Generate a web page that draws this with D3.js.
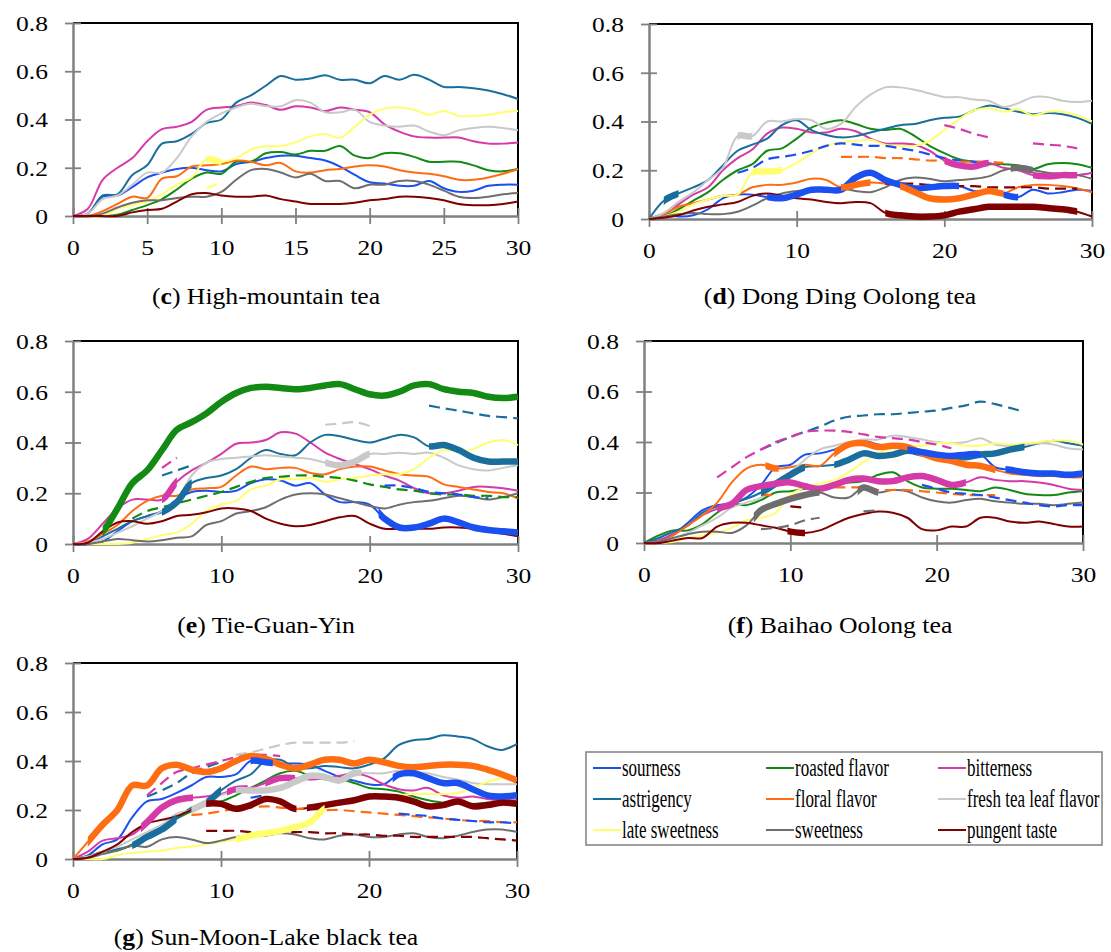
<!DOCTYPE html>
<html>
<head>
<meta charset="utf-8">
<script src="https://cdn.jsdelivr.net/npm/d3@7"></script>
<style>
  body { margin: 0; background: #fff; }
  svg text { font-family: "Liberation Serif", "Times New Roman", Times, serif; }
</style>
</head>
<body>
<svg id="chart" width="1111" height="952"></svg>
<script>
// attribute order used in every panel array below
var attrs = ["sourness", "roasted flavor", "bitterness", "astrigency", "floral flavor",
             "fresh tea leaf flavor", "late sweetness", "sweetness", "pungent taste"];
var keys = ["sour", "roast", "bitter", "astr", "floral", "fresh", "late", "sweet", "pungent"];
var colors = ["#1a4ff0", "#138a13", "#d43aa8", "#1a6e9e", "#ff6d12",
              "#c9c9c9", "#ffff6e", "#6e6e6e", "#7f0000"];

// dominance rate at t = 0..30 s, one row per attribute
var highMountain = [
  [0,0.01,0.08,0.085,0.12,0.16,0.18,0.195,0.2,0.19,0.185,0.215,0.225,0.24,0.25,0.25,0.24,0.23,0.205,0.17,0.14,0.135,0.125,0.125,0.145,0.115,0.1,0.105,0.125,0.13,0.13],
  [0,0,0,0.005,0.025,0.045,0.07,0.11,0.155,0.18,0.175,0.225,0.225,0.26,0.265,0.255,0.27,0.27,0.29,0.25,0.24,0.26,0.26,0.245,0.225,0.225,0.225,0.21,0.19,0.185,0.195],
  [0,0.03,0.15,0.2,0.24,0.31,0.36,0.37,0.39,0.44,0.45,0.455,0.47,0.46,0.44,0.455,0.45,0.435,0.45,0.44,0.43,0.38,0.35,0.33,0.325,0.325,0.325,0.31,0.3,0.3,0.305],
  [0,0.01,0.085,0.09,0.17,0.21,0.3,0.31,0.34,0.385,0.4,0.47,0.5,0.54,0.58,0.565,0.57,0.583,0.565,0.565,0.55,0.58,0.565,0.585,0.565,0.535,0.535,0.53,0.52,0.505,0.485],
  [0,0,0.02,0.05,0.08,0.075,0.155,0.165,0.205,0.21,0.215,0.23,0.225,0.21,0.22,0.185,0.18,0.19,0.195,0.205,0.21,0.205,0.19,0.18,0.175,0.165,0.15,0.15,0.16,0.175,0.195],
  [0,0.01,0.07,0.085,0.13,0.18,0.18,0.24,0.33,0.39,0.425,0.45,0.465,0.455,0.455,0.48,0.47,0.43,0.43,0.44,0.39,0.375,0.37,0.375,0.35,0.335,0.355,0.365,0.37,0.365,0.355],
  [0,0,0,0.03,0.045,0.06,0.09,0.13,0.16,0.235,0.225,0.24,0.275,0.29,0.29,0.305,0.33,0.34,0.325,0.37,0.42,0.445,0.45,0.44,0.42,0.435,0.415,0.415,0.42,0.43,0.435],
  [0,0,0.01,0.035,0.055,0.065,0.065,0.075,0.08,0.08,0.1,0.15,0.19,0.195,0.18,0.16,0.175,0.145,0.145,0.115,0.13,0.13,0.145,0.145,0.13,0.105,0.08,0.075,0.08,0.09,0.095],
  [0,0,0,0,0.015,0.025,0.03,0.06,0.09,0.095,0.085,0.08,0.08,0.085,0.07,0.06,0.05,0.05,0.05,0.055,0.065,0.07,0.08,0.08,0.075,0.065,0.05,0.045,0.045,0.05,0.06]
];
var highMountainThick = [["late", 9, 10]];
var highMountainDash = [["late", 9, [0.115, 0.14]]];

var dongDing = [
  [0,0.02,0.01,0.015,0.04,0.085,0.1,0.1,0.09,0.085,0.1,0.12,0.12,0.12,0.17,0.19,0.16,0.14,0.125,0.13,0.135,0.135,0.115,0.115,0.1,0.09,0.12,0.105,0.11,0.12,0.115],
  [0,0.01,0.04,0.075,0.11,0.16,0.2,0.225,0.28,0.29,0.33,0.375,0.395,0.405,0.39,0.37,0.365,0.37,0.34,0.3,0.27,0.245,0.235,0.225,0.225,0.22,0.205,0.225,0.23,0.225,0.21],
  [0,0.015,0.06,0.1,0.13,0.2,0.25,0.285,0.35,0.375,0.37,0.355,0.355,0.37,0.36,0.33,0.31,0.31,0.305,0.28,0.24,0.22,0.215,0.23,0.21,0.2,0.18,0.175,0.18,0.18,0.19],
  [0,0.075,0.105,0.13,0.16,0.22,0.28,0.305,0.33,0.385,0.405,0.365,0.345,0.335,0.34,0.355,0.37,0.385,0.39,0.405,0.415,0.42,0.445,0.465,0.455,0.44,0.43,0.435,0.43,0.415,0.39],
  [0,0.02,0.05,0.065,0.08,0.095,0.1,0.13,0.14,0.14,0.15,0.165,0.16,0.13,0.14,0.15,0.145,0.135,0.11,0.085,0.08,0.085,0.1,0.115,0.105,0.13,0.14,0.14,0.135,0.125,0.11],
  [0,0.025,0.07,0.11,0.16,0.21,0.34,0.34,0.4,0.4,0.41,0.405,0.37,0.39,0.46,0.51,0.54,0.54,0.53,0.515,0.5,0.5,0.49,0.485,0.46,0.475,0.5,0.5,0.485,0.48,0.485],
  [0,0.01,0.03,0.06,0.08,0.095,0.1,0.19,0.195,0.2,0.23,0.27,0.3,0.315,0.32,0.325,0.305,0.3,0.3,0.32,0.365,0.41,0.445,0.455,0.44,0.45,0.425,0.44,0.44,0.425,0.4],
  [0,0.01,0.02,0.025,0.02,0.02,0.03,0.055,0.085,0.105,0.115,0.12,0.12,0.125,0.115,0.11,0.13,0.16,0.17,0.165,0.155,0.16,0.165,0.175,0.2,0.21,0.2,0.19,0.185,0.18,0.165],
  [0,0.005,0.015,0.035,0.05,0.06,0.07,0.095,0.105,0.095,0.085,0.08,0.07,0.065,0.07,0.065,0.025,0.015,0.01,0.01,0.015,0.03,0.04,0.05,0.05,0.05,0.05,0.045,0.04,0.03,0.01]
];
var dongDingThick = [["fresh", 6, 7], ["astr", 1, 2], ["bitter", 20, 23], ["bitter", 26, 29],
  ["late", 7, 9], ["sour", 8, 21], ["sour", 24, 25], ["floral", 13, 15], ["floral", 17, 24],
  ["sweet", 24.5, 26], ["pungent", 16, 29]];
var dongDingDash = [
  ["bitter", 20, [0.385, 0.37, 0.35, 0.335]],
  ["bitter", 26, [0.31, 0.305, 0.3, 0.29]],
  ["sour", 6, [0.19,0.21,0.245,0.255,0.265,0.28,0.3,0.31,0.305,0.3,0.3,0.29,0.28,0.265,0.25,0.24,0.235,0.23]],
  ["floral", 13, [0.255,0.255,0.255,0.25,0.25,0.245,0.24,0.24,0.235,0.235,0.235,0.23]],
  ["pungent", 16, [0.145,0.145,0.145,0.14,0.14,0.135,0.135,0.13,0.13,0.13,0.13,0.125,0.125,0.125]]
];

var tieGuanYin = [
  [0,0,0.01,0.05,0.09,0.11,0.13,0.175,0.205,0.21,0.205,0.21,0.24,0.255,0.25,0.23,0.24,0.195,0.165,0.165,0.155,0.1,0.065,0.065,0.08,0.1,0.085,0.065,0.055,0.05,0.045],
  [0,0.005,0.05,0.14,0.24,0.29,0.37,0.45,0.48,0.515,0.56,0.595,0.615,0.62,0.615,0.61,0.615,0.625,0.63,0.61,0.59,0.585,0.6,0.625,0.63,0.61,0.6,0.595,0.58,0.575,0.58],
  [0,0.02,0.08,0.14,0.175,0.175,0.175,0.245,0.29,0.32,0.355,0.395,0.4,0.41,0.44,0.435,0.4,0.36,0.335,0.315,0.295,0.27,0.25,0.22,0.2,0.2,0.21,0.225,0.225,0.22,0.21],
  [0,0,0.03,0.06,0.09,0.11,0.125,0.165,0.24,0.26,0.27,0.295,0.34,0.37,0.355,0.35,0.4,0.43,0.425,0.41,0.4,0.415,0.43,0.42,0.385,0.39,0.37,0.34,0.325,0.325,0.325],
  [0,0.01,0.04,0.075,0.13,0.17,0.19,0.19,0.215,0.22,0.225,0.27,0.305,0.295,0.3,0.3,0.28,0.275,0.295,0.305,0.305,0.29,0.275,0.27,0.265,0.235,0.225,0.215,0.205,0.2,0.18],
  [0,0.005,0.02,0.045,0.07,0.1,0.13,0.17,0.27,0.32,0.335,0.34,0.345,0.35,0.345,0.34,0.335,0.32,0.31,0.325,0.355,0.355,0.36,0.355,0.36,0.34,0.31,0.295,0.29,0.3,0.31],
  [0,0,0,0,0.005,0.02,0.035,0.045,0.08,0.13,0.155,0.17,0.215,0.23,0.255,0.255,0.26,0.245,0.255,0.26,0.27,0.275,0.275,0.295,0.34,0.37,0.365,0.375,0.4,0.41,0.39],
  [0,0,0.01,0.02,0.015,0.01,0.015,0.025,0.03,0.075,0.09,0.12,0.13,0.145,0.175,0.195,0.2,0.195,0.18,0.165,0.15,0.14,0.155,0.165,0.17,0.18,0.19,0.185,0.175,0.185,0.2],
  [0,0.005,0.05,0.085,0.09,0.08,0.09,0.11,0.115,0.125,0.14,0.14,0.13,0.1,0.08,0.07,0.075,0.09,0.105,0.11,0.08,0.06,0.06,0.06,0.06,0.065,0.065,0.06,0.05,0.04,0.03]
];
var tieGuanYinThick = [["roast", 2, 30], ["astr", 6, 8], ["astr", 24, 30], ["bitter", 6, 7],
  ["fresh", 17, 20], ["sour", 20.6, 30]];
var tieGuanYinDash = [
  ["roast", 4, [0.1,0.13,0.145,0.16,0.175,0.19,0.205,0.225,0.245,0.26,0.265,0.27,0.27,0.265,0.26,0.25,0.235,0.225,0.215,0.21,0.2,0.195,0.195,0.19,0.19,0.185,0.185]],
  ["astr", 6, [0.27, 0.29, 0.31]],
  ["astr", 24, [0.545, 0.535, 0.525, 0.515, 0.505, 0.5, 0.495]],
  ["bitter", 6, [0.3, 0.34]],
  ["fresh", 17, [0.47, 0.475, 0.48, 0.465]],
  ["sour", 21, [0.23, 0.23, 0.22, 0.205, 0.2, 0.195, 0.185, 0.18]]
];

var baihao = [
  [0,0.01,0.035,0.08,0.13,0.15,0.155,0.18,0.23,0.3,0.31,0.35,0.355,0.37,0.395,0.405,0.39,0.38,0.37,0.36,0.35,0.345,0.35,0.35,0.3,0.29,0.28,0.275,0.275,0.27,0.275],
  [0,0.03,0.05,0.05,0.075,0.12,0.155,0.15,0.17,0.2,0.205,0.215,0.22,0.235,0.24,0.245,0.27,0.28,0.245,0.22,0.215,0.215,0.21,0.205,0.22,0.21,0.195,0.19,0.19,0.2,0.205],
  [0,0.01,0.035,0.07,0.11,0.135,0.155,0.21,0.225,0.235,0.24,0.225,0.215,0.23,0.25,0.255,0.245,0.245,0.26,0.265,0.25,0.23,0.24,0.26,0.25,0.245,0.245,0.24,0.23,0.215,0.21],
  [0,0.02,0.045,0.07,0.12,0.145,0.16,0.175,0.2,0.235,0.27,0.3,0.305,0.31,0.33,0.355,0.345,0.35,0.365,0.355,0.345,0.34,0.34,0.35,0.355,0.37,0.38,0.395,0.405,0.395,0.385],
  [0,0,0.03,0.07,0.11,0.16,0.24,0.295,0.31,0.295,0.3,0.31,0.305,0.355,0.39,0.395,0.38,0.385,0.38,0.355,0.335,0.325,0.31,0.305,0.29,0.275,0.27,0.265,0.265,0.26,0.26],
  [0,0.005,0.02,0.04,0.07,0.1,0.14,0.16,0.18,0.23,0.28,0.33,0.37,0.385,0.4,0.41,0.41,0.425,0.42,0.41,0.4,0.395,0.4,0.415,0.39,0.385,0.39,0.395,0.39,0.375,0.37],
  [0,0,0.005,0.02,0.03,0.04,0.06,0.09,0.1,0.12,0.19,0.22,0.235,0.25,0.28,0.32,0.355,0.375,0.385,0.385,0.395,0.395,0.385,0.385,0.395,0.39,0.395,0.4,0.405,0.405,0.39],
  [0,0.005,0.02,0.035,0.045,0.045,0.04,0.07,0.13,0.155,0.175,0.19,0.2,0.18,0.18,0.22,0.2,0.21,0.205,0.18,0.165,0.16,0.17,0.175,0.165,0.16,0.155,0.155,0.15,0.155,0.16],
  [0,0,0.01,0.02,0.02,0.065,0.08,0.08,0.07,0.06,0.045,0.04,0.05,0.075,0.1,0.115,0.125,0.12,0.1,0.055,0.05,0.065,0.065,0.1,0.1,0.085,0.08,0.085,0.075,0.065,0.065]
];
var baihaoThick = [["astr", 8, 11], ["astr", 13, 26], ["bitter", 5, 22], ["floral", 8.3, 9.2],
  ["floral", 13, 24], ["sour", 18, 23], ["sour", 24.7, 30], ["sweet", 7.5, 12],
  ["sweet", 14.6, 16], ["pungent", 9.8, 11]];
var baihaoDash = [
  ["astr", 8, [0.37,0.395,0.42,0.44,0.46,0.485,0.5,0.505,0.51,0.51,0.515,0.52,0.525,0.535,0.545,0.56,0.55,0.535,0.52]],
  ["bitter", 5, [0.26,0.3,0.34,0.37,0.4,0.42,0.44,0.445,0.445,0.44,0.43,0.42,0.415,0.41,0.4,0.39,0.375]],
  ["floral", 13, [0.22,0.22,0.22,0.21,0.21,0.21,0.205,0.2,0.195,0.19,0.19,0.19]],
  ["floral", 8, [0.19, 0.19]],
  ["sour", 19, [0.23,0.215,0.2,0.195,0.19,0.18,0.17,0.16,0.15,0.145,0.15,0.15]],
  ["sweet", 8, [0.055, 0.06, 0.07, 0.09, 0.1]],
  ["sweet", 15, [0.125, 0.13]],
  ["pungent", 10, [0.145, 0.14]]
];

var sunMoonLake = [
  [0,0.015,0.06,0.08,0.17,0.235,0.245,0.27,0.3,0.335,0.335,0.345,0.4,0.395,0.39,0.39,0.385,0.36,0.335,0.32,0.305,0.305,0.345,0.35,0.33,0.31,0.31,0.285,0.26,0.255,0.26],
  [0,0.01,0.03,0.035,0.06,0.1,0.13,0.165,0.195,0.22,0.235,0.26,0.29,0.32,0.35,0.36,0.34,0.325,0.325,0.31,0.29,0.285,0.275,0.255,0.24,0.23,0.23,0.225,0.23,0.23,0.23],
  [0,0.03,0.075,0.085,0.1,0.15,0.21,0.24,0.25,0.255,0.265,0.285,0.29,0.31,0.33,0.33,0.325,0.33,0.34,0.35,0.335,0.305,0.285,0.28,0.29,0.26,0.25,0.255,0.245,0.24,0.24],
  [0,0.01,0.03,0.04,0.055,0.09,0.12,0.165,0.21,0.23,0.28,0.32,0.345,0.4,0.405,0.375,0.37,0.38,0.375,0.37,0.385,0.41,0.465,0.485,0.49,0.505,0.5,0.49,0.46,0.445,0.47],
  [0,0.07,0.14,0.2,0.3,0.3,0.37,0.385,0.365,0.355,0.37,0.4,0.42,0.41,0.385,0.37,0.385,0.405,0.405,0.39,0.405,0.395,0.38,0.375,0.38,0.385,0.385,0.38,0.365,0.345,0.32],
  [0,0.01,0.03,0.05,0.08,0.11,0.14,0.185,0.2,0.23,0.26,0.28,0.28,0.28,0.29,0.315,0.34,0.335,0.32,0.35,0.35,0.35,0.36,0.355,0.35,0.335,0.325,0.31,0.305,0.305,0.305],
  [0,0,0,0.015,0.025,0.03,0.035,0.045,0.05,0.06,0.07,0.08,0.095,0.105,0.115,0.13,0.15,0.205,0.235,0.245,0.25,0.255,0.26,0.265,0.265,0.265,0.27,0.29,0.315,0.33,0.33],
  [0,0.005,0.02,0.035,0.055,0.05,0.08,0.09,0.08,0.065,0.075,0.09,0.095,0.095,0.105,0.1,0.085,0.08,0.095,0.1,0.09,0.09,0.1,0.105,0.09,0.085,0.095,0.11,0.12,0.12,0.11],
  [0,0.005,0.03,0.06,0.11,0.145,0.16,0.175,0.2,0.225,0.225,0.205,0.22,0.245,0.235,0.205,0.21,0.22,0.23,0.24,0.255,0.255,0.25,0.235,0.215,0.22,0.235,0.215,0.22,0.23,0.225]
];
var sunMoonLakeThick = [["floral", 1, 30], ["astr", 4, 7], ["astr", 9, 10], ["sour", 12, 13.5],
  ["sour", 21.6, 30], ["bitter", 4.6, 8.1], ["bitter", 10.4, 11.8], ["bitter", 13, 15],
  ["fresh", 8, 9], ["fresh", 11, 19.5], ["pungent", 9, 15.1], ["pungent", 15.8, 30], ["late", 11, 17]];
var sunMoonLakeDash = [
  ["floral", 8, [0.18,0.185,0.195,0.205,0.21,0.215,0.21,0.205,0.205,0.2,0.2,0.195,0.19,0.185,0.18,0.175,0.17,0.165,0.16,0.155,0.155,0.15,0.15]],
  ["astr", 5, [0.255, 0.28, 0.31, 0.35, 0.375, 0.395]],
  ["sour", 12, [0.25, 0.26]],
  ["sour", 22, [0.185,0.18,0.175,0.165,0.16,0.155,0.15,0.15,0.145]],
  ["bitter", 5, [0.26,0.31,0.355,0.37,0.385,0.4,0.415,0.425,0.425,0.42]],
  ["fresh", 11, [0.425,0.435,0.45,0.465,0.475,0.475,0.475,0.475,0.48]],
  ["pungent", 9, [0.115,0.115,0.115,0.11,0.11,0.11,0.11,0.11,0.105,0.105,0.1,0.1,0.095,0.095,0.09,0.09,0.09,0.09,0.09,0.085,0.08,0.075]]
];

var yTicks = [0, 0.2, 0.4, 0.6, 0.8];

// panel frames (pixels) and captions
var panels = [
  { id: "c", name: "High-mountain tea", data: highMountain, thick: highMountainThick, dash: highMountainDash,
    x0: 73, x1: 518, y0: 216, y1: 23, xTicks: [0, 5, 10, 15, 20, 25, 30], cx: 266, cy: 304 },
  { id: "d", name: "Dong Ding Oolong tea", data: dongDing, thick: dongDingThick, dash: dongDingDash,
    x0: 649, x1: 1092, y0: 219, y1: 24, xTicks: [0, 10, 20, 30], cx: 840, cy: 304 },
  { id: "e", name: "Tie-Guan-Yin", data: tieGuanYin, thick: tieGuanYinThick, dash: tieGuanYinDash,
    x0: 73, x1: 518, y0: 544, y1: 341, xTicks: [0, 10, 20, 30], cx: 266, cy: 633 },
  { id: "f", name: "Baihao Oolong tea", data: baihao, thick: baihaoThick, dash: baihaoDash,
    x0: 644, x1: 1083, y0: 543, y1: 341, xTicks: [0, 10, 20, 30], cx: 840, cy: 633 },
  { id: "g", name: "Sun-Moon-Lake black tea", data: sunMoonLake, thick: sunMoonLakeThick, dash: sunMoonLakeDash,
    x0: 73, x1: 517, y0: 859, y1: 663, xTicks: [0, 10, 20, 30], cx: 266, cy: 945 }
];

var serif = "'Liberation Serif', 'Times New Roman', Times, serif";
var svg = d3.select("#chart");
var defs = svg.append("defs");
var axisGrey = "#808080";
var stretch = "scale(1.16,1)";

function drawPanel(p) {
  var x = d3.scaleLinear().domain([0, 30]).range([p.x0, p.x1]);
  var y = d3.scaleLinear().domain([0, 0.8]).range([p.y0, p.y1]);
  var g = svg.append("g").attr("class", "panel-" + p.id);

  // black top/right frame
  g.append("path")
    .attr("d", "M" + x(0) + "," + y(0.8) + "H" + x(30) + "V" + y(0))
    .attr("fill", "none").attr("stroke", "#000").attr("stroke-width", 2);

  var yAxis = g.append("g")
    .attr("transform", "translate(" + x(0) + ",0)")
    .call(d3.axisLeft(y).tickValues(yTicks).tickSize(8).tickSizeOuter(0)
      .tickFormat(function (d) { return d === 0 ? "0" : d3.format(".1f")(d); }));
  var xAxis = g.append("g")
    .attr("transform", "translate(0," + y(0) + ")")
    .call(d3.axisBottom(x).tickValues(p.xTicks).tickSize(8).tickSizeOuter(0));

  [yAxis, xAxis].forEach(function (a) {
    a.attr("font-family", serif).attr("font-size", 22);
    a.select(".domain").attr("stroke", axisGrey).attr("stroke-width", 2.5);
    a.selectAll(".tick line").attr("stroke", axisGrey).attr("stroke-width", 1.8);
    a.selectAll(".tick text").attr("fill", "#000")
      .style("font-family", serif).style("font-size", "22px");
  });
  yAxis.selectAll(".tick line").attr("x1", 8);
  yAxis.selectAll(".tick text").attr("x", null).attr("dy", "0.34em")
    .attr("transform", "translate(-25,0) " + stretch);
  xAxis.selectAll(".tick line").attr("y1", -8);
  xAxis.selectAll(".tick text").attr("y", null).attr("dy", null)
    .attr("transform", "translate(0,39) " + stretch);

  var line = d3.line()
    .x(function (d, i) { return x(i); })
    .y(function (d) { return y(d); })
    .curve(d3.curveCatmullRom.alpha(0.5));

  // thin curves
  p.data.forEach(function (vals, k) {
    g.append("path").attr("d", line(vals))
      .attr("fill", "none").attr("stroke", colors[k]).attr("stroke-width", 2)
      .attr("stroke-linejoin", "round");
  });

  // dashed curves
  p.dash.forEach(function (dd) {
    var k = keys.indexOf(dd[0]), t0 = dd[1];
    var dl = d3.line()
      .x(function (d, i) { return x(t0 + i); })
      .y(function (d) { return y(d); })
      .curve(d3.curveCatmullRom.alpha(0.5));
    g.append("path").attr("d", dl(dd[2]))
      .attr("fill", "none").attr("stroke", colors[k]).attr("stroke-width", 2.2)
      .attr("stroke-dasharray", "11,6");
  });

  // thick (significant) stretches: same curve, clipped to the time range
  p.thick.forEach(function (th, j) {
    var k = keys.indexOf(th[0]);
    var cid = "clip-" + p.id + "-" + j;
    defs.append("clipPath").attr("id", cid).append("rect")
      .attr("x", x(th[1])).attr("width", x(th[2]) - x(th[1]))
      .attr("y", y(0.8)).attr("height", y(0) - y(0.8) + 6);
    g.append("path").attr("d", line(p.data[k]))
      .attr("clip-path", "url(#" + cid + ")")
      .attr("fill", "none").attr("stroke", colors[k]).attr("stroke-width", 6.5)
      .attr("stroke-linejoin", "round");
  });

  // caption like "(c) High-mountain tea"
  var cap = g.append("text")
    .attr("transform", "translate(" + p.cx + "," + p.cy + ") scale(1.07,1)")
    .attr("text-anchor", "middle")
    .style("font-family", serif).style("font-size", "24px");
  cap.append("tspan").text("(");
  cap.append("tspan").attr("font-weight", "bold").text(p.id);
  cap.append("tspan").text(") " + p.name);
}

panels.forEach(drawPanel);

// legend
var lg = svg.append("g").attr("class", "legend");
lg.append("rect").attr("x", 586).attr("y", 752).attr("width", 516).attr("height", 93)
  .attr("fill", "#fff").attr("stroke", axisGrey).attr("stroke-width", 1.5);
var colX = [593, 766, 938], rowY = [768, 799, 830];
attrs.forEach(function (name, k) {
  var cx = colX[k % 3], cy = rowY[Math.floor(k / 3)];
  lg.append("line").attr("x1", cx).attr("x2", cx + 28).attr("y1", cy).attr("y2", cy)
    .attr("stroke", colors[k]).attr("stroke-width", 2);
  lg.append("text")
    .attr("transform", "translate(" + (cx + 29) + "," + (cy + 8) + ") scale(0.68,1)")
    .style("font-family", serif).style("font-size", "25px").text(name);
});
</script>
</body>
</html>
